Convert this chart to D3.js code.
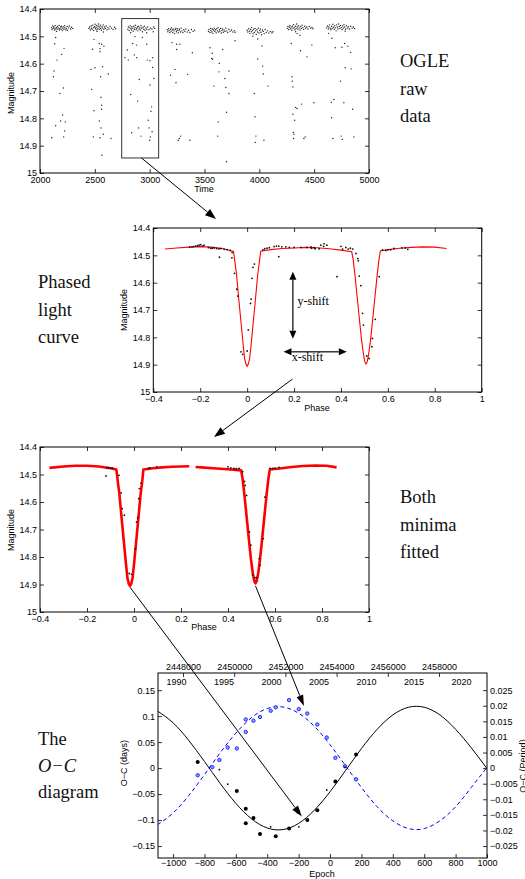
<!DOCTYPE html>
<html><head><meta charset="utf-8">
<script src="https://cdn.jsdelivr.net/npm/d3@7"></script>
<style>
body{margin:0;background:#fff}
</style></head><body>
<svg id="fig" width="525" height="879"></svg>
<script>
// ---------- OGLE raw photometry (time, magnitude) ----------
const rawSeason1 = [[2105,14.468],[2109,14.475],[2117,14.462],[2120,14.471],[2124,14.466],[2133,14.477],[2136,14.470],[2139,14.461],[2146,14.473],[2150,14.468],[2151,14.482],[2159,14.464],[2163,14.474],[2166,14.469],[2174,14.460],[2179,14.477],[2181,14.471],[2190,14.466],[2193,14.474],[2195,14.463],[2203,14.479],[2207,14.470],[2211,14.465],[2218,14.474],[2224,14.461],[2227,14.468],[2236,14.476],[2240,14.471],[2248,14.464],[2251,14.478],[2262,14.469],[2268,14.462],[2279,14.473],[2287,14.467],[2298,14.471],
  [2143,14.504],[2134,14.527],[2198,14.566],[2219,14.544],[2155,14.587],[2128,14.627],[2122,14.648],[2213,14.689],[2182,14.709],[2207,14.788],[2231,14.813],[2188,14.81],[2143,14.827],[2225,14.846],[2216,14.868],[2107,14.871]];
const rawSeason2 = [[2446,14.471],[2452,14.466],[2458,14.477],[2466,14.462],[2469,14.470],[2476,14.474],[2481,14.459],[2487,14.468],[2490,14.479],[2498,14.465],[2502,14.456],[2506,14.472],[2511,14.467],[2517,14.460],[2519,14.476],[2527,14.470],[2531,14.463],[2534,14.455],[2540,14.474],[2546,14.466],[2550,14.459],[2553,14.471],[2560,14.478],[2566,14.463],[2569,14.469],[2577,14.458],[2582,14.474],[2589,14.466],[2596,14.471],[2603,14.462],[2611,14.476],[2618,14.468],[2629,14.473],[2640,14.464],[2652,14.470],[2667,14.475],[2681,14.467],[2690,14.472],[2520,14.482],[2578,14.484],
  [2492,14.511],[2541,14.526],[2562,14.529],[2583,14.536],[2480,14.547],[2547,14.545],[2547,14.556],[2571,14.611],[2501,14.615],[2465,14.621],[2623,14.638],[2553,14.648],[2471,14.694],[2556,14.723],[2562,14.752],[2562,14.767],[2492,14.772],[2541,14.81],[2556,14.835],[2577,14.858],[2486,14.868],[2547,14.871],[2647,14.874],[2565,14.935]];
const rawSeason3 = [[2801,14.474],[2806,14.466],[2813,14.479],[2819,14.468],[2822,14.461],[2829,14.472],[2835,14.477],[2838,14.465],[2846,14.470],[2850,14.481],[2855,14.463],[2861,14.474],[2867,14.468],[2870,14.459],[2876,14.476],[2883,14.471],[2888,14.466],[2892,14.480],[2899,14.464],[2904,14.473],[2911,14.469],[2916,14.477],[2921,14.461],[2927,14.470],[2934,14.483],[2939,14.467],[2947,14.474],[2951,14.463],[2958,14.478],[2966,14.469],[2974,14.474],[2983,14.466],[2994,14.476],[3007,14.470],[3021,14.473],[3036,14.466],[3046,14.471],
  [2827,14.487],[2866,14.501],[2933,14.504],[2973,14.487],[3033,14.483],[2881,14.532],[2845,14.526],[2973,14.529],
  [2796,14.55],[2775,14.578],[2805,14.587],[2860,14.568],[2881,14.578],[2978,14.587],[3003,14.589],[2905,14.658],[3003,14.678],[2827,14.713],[2890,14.737],[3018,14.758],[3012,14.774],[2987,14.807],[2899,14.835],[2994,14.835],[2836,14.853],[2921,14.865],[3006,14.868],[3000,14.88],[3027,14.578],[3039,14.654],[3027,14.614],[3022,14.849]];
const rawSeason4 = [[3160,14.476],[3166,14.483],[3173,14.472],[3177,14.479],[3184,14.487],[3190,14.474],[3195,14.481],[3199,14.469],[3206,14.477],[3211,14.486],[3215,14.473],[3222,14.480],[3228,14.490],[3233,14.475],[3239,14.470],[3244,14.483],[3250,14.478],[3255,14.472],[3261,14.488],[3268,14.479],[3272,14.474],[3280,14.484],[3287,14.470],[3294,14.480],[3302,14.486],[3311,14.476],[3319,14.481],[3330,14.473],[3342,14.484],[3355,14.478],[3367,14.486],[3381,14.475],[3396,14.482],[3409,14.478],
  [3203,14.523],[3246,14.529],[3276,14.529],[3246,14.548],[3389,14.56],[3231,14.621],[3191,14.642],[3346,14.639],[3240,14.67],[3270,14.874],[3261,14.88],[3367,14.88],[3283,14.865]];
const rawSeason5 = [[3536,14.482],[3541,14.475],[3549,14.486],[3555,14.471],[3558,14.479],[3566,14.484],[3571,14.473],[3576,14.489],[3583,14.477],[3589,14.470],[3594,14.482],[3600,14.476],[3606,14.487],[3612,14.472],[3617,14.480],[3624,14.468],[3629,14.484],[3636,14.476],[3641,14.481],[3647,14.471],[3653,14.488],[3660,14.479],[3666,14.473],[3672,14.485],[3679,14.477],[3687,14.482],[3694,14.470],[3703,14.480],[3712,14.486],[3722,14.474],[3733,14.481],[3746,14.477],[3759,14.484],[3772,14.479],[3779,14.485],
  [3550,14.542],[3571,14.562],[3665,14.548],[3565,14.581],[3574,14.584],[3635,14.599],[3778,14.516],[3632,14.63],[3723,14.627],[3586,14.682],[3686,14.654],[3695,14.687],[3723,14.709],[3701,14.778],[3625,14.813],[3620,14.865],[3701,14.959]];
const rawSeason6 = [[3889,14.478],[3895,14.484],[3903,14.472],[3909,14.481],[3914,14.489],[3921,14.475],[3927,14.483],[3930,14.468],[3937,14.479],[3943,14.491],[3948,14.474],[3954,14.486],[3961,14.471],[3966,14.480],[3972,14.493],[3978,14.476],[3984,14.484],[3990,14.470],[3997,14.488],[4003,14.479],[4009,14.473],[4015,14.485],[4021,14.494],[4028,14.477],[4036,14.482],[4044,14.490],[4053,14.475],[4063,14.486],[4074,14.480],[4087,14.488],[4101,14.482],[4115,14.487],[4124,14.483],
  [3985,14.583],[4030,14.609],[4036,14.638],[3954,14.709],[4078,14.682],[4024,14.535],[3960,14.794],[3969,14.865],[3963,14.888],[4042,14.88],[3940,14.5],[3985,14.51]];
const rawSeason7 = [[4254,14.471],[4261,14.464],[4268,14.475],[4274,14.467],[4279,14.460],[4286,14.472],[4291,14.466],[4297,14.478],[4303,14.462],[4308,14.470],[4313,14.457],[4319,14.468],[4325,14.476],[4330,14.463],[4336,14.471],[4341,14.455],[4347,14.466],[4353,14.474],[4358,14.461],[4364,14.469],[4371,14.477],[4377,14.464],[4384,14.471],[4390,14.459],[4397,14.468],[4405,14.475],[4413,14.463],[4422,14.470],[4432,14.466],[4443,14.473],[4455,14.464],[4468,14.470],[4480,14.467],[4489,14.472],[4331,14.483],
  [4291,14.526],[4376,14.553],[4434,14.575],[4479,14.532],[4297,14.648],[4300,14.664],[4306,14.685],[4386,14.748],[4498,14.743],[4331,14.76],[4343,14.764],[4306,14.785],[4322,14.807],[4309,14.852],[4315,14.858],[4312,14.874],[4418,14.868],[4406,14.874],[4345,14.49],[4370,14.496]];
const rawSeason8 = [[4614,14.469],[4621,14.462],[4629,14.473],[4634,14.466],[4640,14.458],[4647,14.470],[4652,14.476],[4659,14.463],[4664,14.471],[4670,14.456],[4676,14.467],[4683,14.474],[4688,14.461],[4694,14.469],[4700,14.480],[4705,14.458],[4711,14.466],[4717,14.473],[4723,14.455],[4729,14.464],[4735,14.471],[4741,14.460],[4748,14.468],[4754,14.476],[4760,14.462],[4766,14.470],[4772,14.457],[4779,14.466],[4786,14.474],[4794,14.461],[4802,14.470],[4811,14.465],[4821,14.473],[4833,14.463],[4846,14.470],[4858,14.466],[4868,14.471],[4782,14.481],
  [4632,14.489],[4662,14.507],[4692,14.542],[4753,14.54],[4778,14.526],[4808,14.536],[4832,14.559],[4783,14.615],[4838,14.619],[4741,14.664],[4680,14.731],[4656,14.741],[4771,14.743],[4851,14.767],[4659,14.798],[4747,14.865],[4671,14.874],[4756,14.877],[4862,14.868]];
const selectedWindow = {t0: 2745, t1: 3082, m0: 14.435, m1: 14.945};

// ---------- phased light curve (phase, magnitude) ----------
const phasedObs = [[-0.245,14.470],[-0.235,14.469],[-0.228,14.468],[-0.22,14.466],[-0.212,14.465],[-0.205,14.463],[-0.198,14.461],[-0.19,14.466],[-0.184,14.463],
  [-0.165,14.472],[-0.155,14.474],[-0.148,14.474],[-0.14,14.473],[-0.13,14.475],[-0.12,14.476],[-0.112,14.475],[-0.098,14.478],[-0.085,14.479],[-0.072,14.482],
  [-0.118,14.507],[-0.064,14.49],[-0.065,14.509],[-0.054,14.566],[-0.044,14.624],[-0.040,14.649],[-0.026,14.853],[-0.019,14.862],[0.000,14.850],[0.005,14.773],[0.014,14.676],[0.017,14.660],[0.021,14.584],[0.025,14.544],[0.031,14.532],[0.067,14.48],
  [0.075,14.476],[0.085,14.474],[0.095,14.472],[0.115,14.468],[0.125,14.466],[0.135,14.466],[0.148,14.469],[0.165,14.469],[0.18,14.471],[0.20,14.471],[0.23,14.471],[0.255,14.471],[0.275,14.474],[0.29,14.476],[0.135,14.505],
  [0.272,14.469],[0.286,14.472],[0.307,14.476],[0.314,14.463],[0.326,14.467],[0.328,14.458],[0.34,14.463],[0.383,14.578],
  [0.40,14.467],[0.407,14.477],[0.421,14.471],[0.431,14.477],[0.44,14.474],[0.45,14.477],
  [0.464,14.493],[0.472,14.512],[0.474,14.52],[0.478,14.576],[0.485,14.611],[0.492,14.712],[0.496,14.755],[0.51,14.868],[0.52,14.877],[0.532,14.834],[0.534,14.804],[0.546,14.734],[0.563,14.578],
  [0.577,14.48],[0.591,14.482],[0.6,14.48],[0.612,14.48],[0.626,14.475],[0.66,14.473],[0.674,14.473],[0.685,14.478]];
const modelPhase = [-0.35,-0.3,-0.25,-0.2,-0.15,-0.1,-0.058,-0.052,-0.045,-0.035,-0.025,-0.018,-0.011,-0.005,0,0.005,0.011,0.018,0.025,0.035,0.045,0.052,0.058,0.1,0.15,0.2,0.25,0.3,0.35,0.4,0.446,0.452,0.46,0.47,0.48,0.488,0.496,0.502,0.507,0.512,0.518,0.526,0.534,0.544,0.554,0.562,0.568,0.6,0.65,0.7,0.75,0.8,0.85];
const modelMag = [14.477,14.473,14.470,14.468,14.470,14.476,14.486,14.525,14.572,14.665,14.755,14.818,14.877,14.898,14.906,14.898,14.877,14.818,14.755,14.665,14.572,14.525,14.485,14.479,14.475,14.473,14.471,14.472,14.476,14.481,14.487,14.515,14.575,14.660,14.745,14.810,14.862,14.890,14.898,14.890,14.862,14.810,14.745,14.660,14.575,14.515,14.484,14.479,14.474,14.471,14.469,14.470,14.475];

// ---------- both minima fitted separately ----------
const fittedObs = [[-0.116,14.475],[-0.108,14.475],[-0.1,14.477],[-0.092,14.477],[-0.119,14.505],[-0.064,14.503],[-0.055,14.567],[-0.05,14.624],[-0.041,14.648],[-0.02,14.86],[-0.01,14.863],[0.006,14.77],[0.011,14.673],[0.016,14.657],[0.02,14.588],[0.023,14.551],[0.03,14.531],[0.061,14.478],[0.068,14.476],[0.097,14.472],
  [0.40,14.472],[0.412,14.476],[0.425,14.478],[0.435,14.479],[0.447,14.478],[0.462,14.49],[0.47,14.525],[0.473,14.54],[0.479,14.576],[0.491,14.709],[0.497,14.757],[0.505,14.866],[0.515,14.875],[0.522,14.875],[0.533,14.806],[0.536,14.83],[0.55,14.733],[0.557,14.582],[0.579,14.478],[0.59,14.478],[0.6,14.477],[0.617,14.474]];
const fitPrimaryPhase = [-0.36,-0.3,-0.25,-0.2,-0.15,-0.1,-0.075,-0.069,-0.062,-0.052,-0.042,-0.035,-0.028,-0.022,-0.017,-0.012,-0.006,0.001,0.008,0.018,0.028,0.035,0.04,0.08,0.12,0.16,0.2,0.235];
const fitPrimaryMag = [14.476,14.471,14.468,14.468,14.471,14.477,14.482,14.525,14.572,14.665,14.755,14.818,14.877,14.898,14.905,14.898,14.877,14.818,14.755,14.665,14.572,14.525,14.482,14.477,14.474,14.472,14.471,14.470];
const fitSecondaryPhase = [0.262,0.3,0.35,0.4,0.456,0.462,0.47,0.48,0.49,0.498,0.506,0.512,0.517,0.522,0.528,0.536,0.544,0.554,0.564,0.572,0.578,0.62,0.67,0.72,0.77,0.82,0.862];
const fitSecondaryMag = [14.473,14.475,14.478,14.481,14.485,14.515,14.575,14.660,14.745,14.810,14.862,14.888,14.896,14.888,14.862,14.810,14.745,14.660,14.575,14.515,14.482,14.478,14.473,14.469,14.467,14.468,14.474];

// ---------- O-C diagram ----------
const ocEpoch = [-843,-705,-652,-594,-537,-537,-488,-446,-378,-346,-261,-199,-203,-145,-81,-21,34,95,166];
const ocDays = [0.0115,-0.003,-0.031,-0.044,-0.078,-0.106,-0.096,-0.127,-0.113,-0.131,-0.116,-0.113,-0.084,-0.100,-0.081,-0.042,-0.026,0.002,0.026];
const ocWeight = ["L","S","S","L","L","L","L","L","S","L","L","S","L","L","L","S","L","S","L"];
const dpEpoch = [-843,-750,-705,-652,-594,-537,-537,-488,-446,-378,-346,-261,-199,-145,-81,-21,34,95,166];
const dpPeriod = [-0.0023,0.0003,0.0026,0.0066,0.0063,0.0116,0.0156,0.0152,0.0164,0.0184,0.0195,0.0218,0.0189,0.0175,0.0140,0.0098,0.0033,0.0006,-0.0036];
const fitEpoch = [-1100,-1000,-900,-800,-700,-600,-500,-400,-300,-200,-100,0,100,200,300,400,500,600,700,800,900,1000];
const fitOcDays = [0.110,0.0871,0.0533,0.0127,-0.0294,-0.0679,-0.0977,-0.1153,-0.1183,-0.1064,-0.0811,-0.0455,-0.0042,0.0376,0.0746,0.1023,0.1171,0.1171,0.1023,0.0746,0.0390,-0.0010];
const fitOcPeriod = [-0.0182,-0.0144,-0.0088,-0.0021,0.0049,0.0112,0.0162,0.0191,0.0196,0.0176,0.0134,0.0075,0.0007,-0.0062,-0.0124,-0.0169,-0.0194,-0.0194,-0.0169,-0.0124,-0.0062,0.0002];

const magTicks = [14.4,14.5,14.6,14.7,14.8,14.9,15];
const timeTicks = [2000,2500,3000,3500,4000,4500,5000];
const phaseTicks = [-0.4,-0.2,0,0.2,0.4,0.6,0.8,1];
const epochTicks = [-1000,-800,-600,-400,-200,0,200,400,600,800,1000];
const daysTicks = [-0.15,-0.1,-0.05,0,0.05,0.1,0.15];
const periodTicks = [-0.025,-0.02,-0.015,-0.01,-0.005,0,0.005,0.01,0.015,0.02,0.025];
const jdTicks = [2448000,2450000,2452000,2454000,2456000,2458000];
const yearTicks = [1990,1995,2000,2005,2010,2015,2020];

// ---------- drawing ----------
const svg = d3.select("#fig");
const SANS = "'Liberation Sans', Arial, Helvetica, sans-serif";
const SERIF = "'Liberation Serif', 'Times New Roman', serif";
const num = v => String(+v.toFixed(4)).replace("-", "\u2212");

function styleAxis(sel, size) {
  sel.select(".domain").remove();
  sel.selectAll("line").attr("stroke", "#000").attr("stroke-width", 0.8);
  sel.style("font-family", SANS).style("font-size", (size || 9) + "px");
  sel.selectAll("text").attr("fill", "#000");
}

function boxAxes(x, y, xt, yt) {
  const [x0, x1] = x.range(), [yb, yt0] = y.range();
  const g = svg.append("g");
  g.append("g").attr("transform", `translate(0,${yb})`)
    .call(d3.axisBottom(x).tickValues(xt).tickFormat(num).tickSize(-4).tickPadding(4)).call(styleAxis);
  g.append("g").attr("transform", `translate(0,${yt0})`)
    .call(d3.axisTop(x).tickValues(xt).tickFormat("").tickSize(-4)).call(styleAxis);
  g.append("g").attr("transform", `translate(${x0},0)`)
    .call(d3.axisLeft(y).tickValues(yt).tickFormat(num).tickSize(-4).tickPadding(3)).call(styleAxis);
  g.append("g").attr("transform", `translate(${x1},0)`)
    .call(d3.axisRight(y).tickValues(yt).tickFormat("").tickSize(-4)).call(styleAxis);
  g.append("rect").attr("x", x0).attr("y", yt0).attr("width", x1 - x0).attr("height", yb - yt0)
    .attr("fill", "none").attr("stroke", "#000").attr("stroke-width", 1);
  return g;
}

function axisTitle(text, x, y, rotate) {
  svg.append("text").attr("x", x).attr("y", y)
    .attr("transform", rotate ? `rotate(-90,${x},${y})` : null)
    .attr("text-anchor", "middle").attr("dominant-baseline", "middle")
    .style("font-family", SANS).style("font-size", "9px").text(text);
}

function serifLines(lines, x, y0, dy) {
  lines.forEach((l, i) => {
    const t = svg.append("text").attr("x", x).attr("y", y0 + i * dy)
      .style("font-family", SERIF).style("font-size", "18.5px").attr("fill", "#111");
    if (typeof l === "string") t.text(l); else t.style("font-style", "italic").text(l.i);
  });
}

function arrow(p0, p1, len, half, width) {
  const dx = p1[0] - p0[0], dy = p1[1] - p0[1], L = Math.hypot(dx, dy);
  const ux = dx / L, uy = dy / L;
  const bx = p1[0] - ux * len, by = p1[1] - uy * len;
  svg.append("line").attr("x1", p0[0]).attr("y1", p0[1]).attr("x2", bx).attr("y2", by)
    .attr("stroke", "#000").attr("stroke-width", width || 1);
  svg.append("path").attr("d", `M${p1[0]},${p1[1]}L${bx - uy * half},${by + ux * half}L${bx + uy * half},${by - ux * half}Z`)
    .attr("fill", "#000");
}
function doubleArrow(p0, p1, len, half) {
  const mid = [(p0[0] + p1[0]) / 2, (p0[1] + p1[1]) / 2];
  arrow(mid, p1, len, half, 1.2);
  arrow(mid, p0, len, half, 1.2);
}

// Panel 1: raw data
const x1 = d3.scaleLinear().domain([2000, 5000]).range([40, 369]);
const y1 = d3.scaleLinear().domain([15, 14.4]).range([173, 9]);
boxAxes(x1, y1, timeTicks, magTicks);
const raw = [].concat(rawSeason1, rawSeason2, rawSeason3, rawSeason4, rawSeason5, rawSeason6, rawSeason7, rawSeason8);
svg.append("g").selectAll("circle").data(raw).join("circle")
  .attr("cx", d => x1(d[0])).attr("cy", d => y1(d[1])).attr("r", 0.7).attr("fill", "#222");
svg.append("rect").attr("x", x1(selectedWindow.t0)).attr("y", y1(selectedWindow.m0))
  .attr("width", x1(selectedWindow.t1) - x1(selectedWindow.t0)).attr("height", y1(selectedWindow.m1) - y1(selectedWindow.m0))
  .attr("fill", "none").attr("stroke", "#333").attr("stroke-width", 1);
axisTitle("Time", 204, 190);
axisTitle("Magnitude", 12, 93, true);
serifLines(["OGLE", "raw", "data"], 400, 67, 27.5);

// Panel 2: phased light curve
const x2 = d3.scaleLinear().domain([-0.4, 1]).range([153.3, 481.7]);
const y2 = d3.scaleLinear().domain([15, 14.4]).range([392, 228]);
boxAxes(x2, y2, phaseTicks, magTicks);
svg.append("path").datum(d3.zip(modelPhase, modelMag))
  .attr("d", d3.line().x(d => x2(d[0])).y(d => y2(d[1])))
  .attr("fill", "none").attr("stroke", "#ff0000").attr("stroke-width", 1.1);
svg.append("g").selectAll("circle").data(phasedObs).join("circle")
  .attr("cx", d => x2(d[0])).attr("cy", d => y2(d[1])).attr("r", 0.9).attr("fill", "#111");
axisTitle("Phase", 317, 409);
axisTitle("Magnitude", 125, 310, true);
serifLines(["Phased", "light", "curve"], 38, 288, 27.5);
doubleArrow([x2(0.195), y2(14.56)], [x2(0.195), y2(14.805)], 8, 3.5);
doubleArrow([x2(0.155), y2(14.853)], [x2(0.425), y2(14.853)], 8, 3.5);
svg.append("text").attr("x", x2(0.215)).attr("y", y2(14.68)).style("font-family", SERIF).style("font-size", "12px").text("y-shift");
svg.append("text").attr("x", x2(0.19)).attr("y", y2(14.885)).style("font-family", SERIF).style("font-size", "12px").text("x-shift");

// Panel 3: both minima fitted
const x3 = d3.scaleLinear().domain([-0.4, 1]).range([40, 369]);
const y3 = d3.scaleLinear().domain([15, 14.4]).range([612, 447]);
boxAxes(x3, y3, phaseTicks, magTicks);
[[fitPrimaryPhase, fitPrimaryMag], [fitSecondaryPhase, fitSecondaryMag]].forEach(([p, m]) => {
  svg.append("path").datum(d3.zip(p, m))
    .attr("d", d3.line().x(d => x3(d[0])).y(d => y3(d[1])))
    .attr("fill", "none").attr("stroke", "#ff0000").attr("stroke-width", 2.6).attr("stroke-linejoin", "round");
});
svg.append("g").selectAll("circle").data(fittedObs).join("circle")
  .attr("cx", d => x3(d[0])).attr("cy", d => y3(d[1])).attr("r", 0.9).attr("fill", "#111");
axisTitle("Phase", 204, 628);
axisTitle("Magnitude", 12, 530, true);
serifLines(["Both", "minima", "fitted"], 400, 503, 27.5);

// Panel 4: O-C diagram
const x4 = d3.scaleLinear().domain([-1096, 1000]).range([158, 487]);
const y4 = d3.scaleLinear().domain([-0.173, 0.183]).range([858, 673]);
const y4r = d3.scaleLinear().domain([-0.173 / 6, 0.183 / 6]).range([858, 673]);
const jd = d3.scaleLinear().domain([2447023, 2459875]).range([158, 487]);
const yr = d3.scaleLinear().domain([1988.1, 2022.74]).range([158, 487]);
const g4 = svg.append("g");
g4.append("g").attr("transform", "translate(0,858)")
  .call(d3.axisBottom(x4).tickValues(epochTicks).tickFormat(num).tickSize(-4).tickPadding(2)).call(styleAxis);
g4.append("g").attr("transform", "translate(158,0)")
  .call(d3.axisLeft(y4).tickValues(daysTicks).tickFormat(num).tickSize(-4).tickPadding(3)).call(styleAxis);
g4.append("g").attr("transform", "translate(487,0)")
  .call(d3.axisRight(y4r).tickValues(periodTicks).tickFormat(num).tickSize(-4).tickPadding(3)).call(styleAxis);
g4.append("g").attr("transform", "translate(0,673)")
  .call(d3.axisTop(jd).tickValues(jdTicks).tickFormat(d3.format("d")).tickSize(-4).tickPadding(3)).call(styleAxis);
g4.append("g").attr("transform", "translate(0,673)")
  .call(d3.axisBottom(yr).tickValues(yearTicks).tickFormat(d3.format("d")).tickSize(0).tickPadding(6)).call(styleAxis);
g4.append("rect").attr("x", 158).attr("y", 673).attr("width", 329).attr("height", 185)
  .attr("fill", "none").attr("stroke", "#000").attr("stroke-width", 1);
svg.append("clipPath").attr("id", "clip4").append("rect").attr("x", 158).attr("y", 673).attr("width", 329).attr("height", 185);
const plot4 = svg.append("g").attr("clip-path", "url(#clip4)");
plot4.append("path").datum(d3.zip(fitEpoch, fitOcDays))
  .attr("d", d3.line().x(d => x4(d[0])).y(d => y4(d[1])).curve(d3.curveNatural))
  .attr("fill", "none").attr("stroke", "#000").attr("stroke-width", 1);
plot4.append("path").datum(d3.zip(fitEpoch, fitOcPeriod))
  .attr("d", d3.line().x(d => x4(d[0])).y(d => y4r(d[1])).curve(d3.curveNatural))
  .attr("fill", "none").attr("stroke", "#0000ff").attr("stroke-width", 1).attr("stroke-dasharray", "4,3");
plot4.append("g").selectAll("circle").data(d3.zip(dpEpoch, dpPeriod)).join("circle")
  .attr("cx", d => x4(d[0])).attr("cy", d => y4r(d[1])).attr("r", 1.7)
  .attr("fill", "#8d9bff").attr("stroke", "#1f2fff").attr("stroke-width", 1);
plot4.append("g").selectAll("circle").data(d3.zip(ocEpoch, ocDays, ocWeight)).join("circle")
  .attr("cx", d => x4(d[0])).attr("cy", d => y4(d[1])).attr("r", d => d[2] === "L" ? 2 : 0.9).attr("fill", "#000");
axisTitle("Epoch", 322, 875);
axisTitle("O\u2212C (days)", 125, 763, true);
axisTitle("O\u2212C (Period)", 524, 766, true);
serifLines(["The", {i: "O\u2212C"}, "diagram"], 38, 745, 26.5);

// Connecting arrows between the panels
arrow([x1(2925), y1(selectedWindow.m1)], [216, 219], 11, 4, 1);
arrow([x2(0.193), y2(14.953)], [214, 437], 11, 4, 1);
arrow([x3(-0.017), y3(14.91)], [x4(-180), y4(-0.093)], 11, 3.5, 1);
arrow([x3(0.517), y3(14.905)], [x4(-166), y4r(0.0199)], 11, 3.5, 1);
</script>
</body></html>
